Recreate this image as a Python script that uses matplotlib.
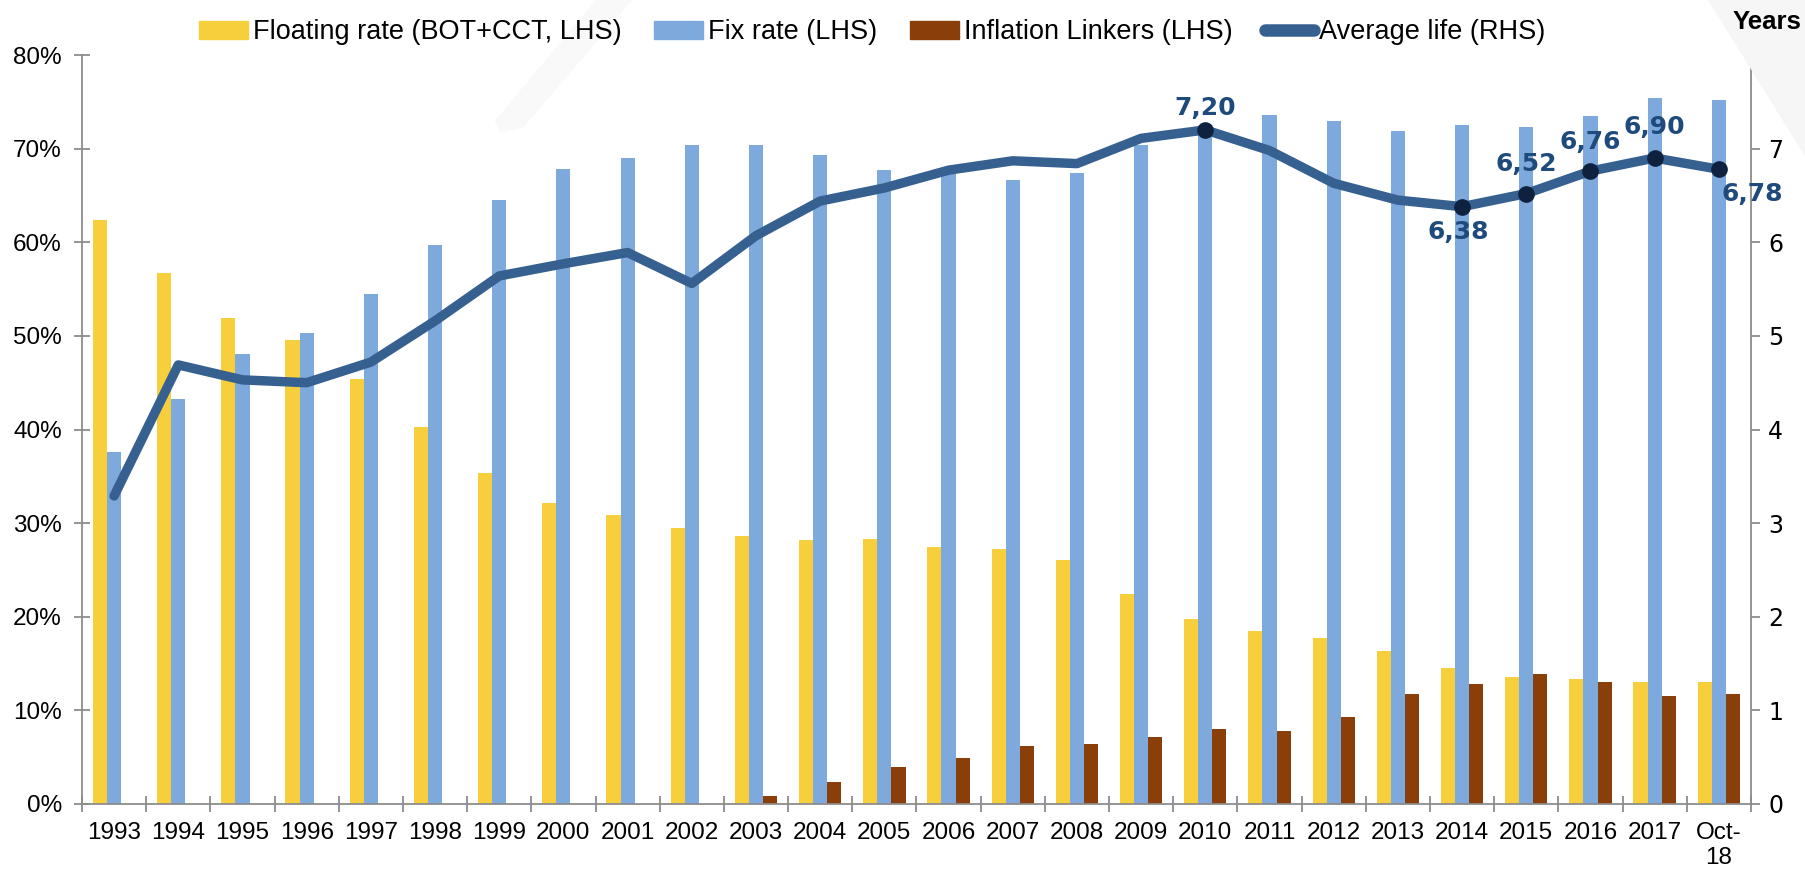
import numpy as np
import matplotlib
matplotlib.use('Agg')
import matplotlib.pyplot as plt
from matplotlib import font_manager as fm
from matplotlib.patches import Polygon
from matplotlib.lines import Line2D

# data
years = ['1993', '1994', '1995', '1996', '1997', '1998', '1999', '2000', '2001', '2002',
         '2003', '2004', '2005', '2006', '2007', '2008', '2009', '2010', '2011', '2012',
         '2013', '2014', '2015', '2016', '2017', 'Oct-\n18']
floating = [62.4, 56.7, 51.9, 49.6, 45.4, 40.3, 35.4, 32.2, 30.9, 29.5,
            28.6, 28.2, 28.3, 27.4, 27.2, 26.1, 22.4, 19.8, 18.5, 17.7,
            16.3, 14.5, 13.6, 13.4, 13.0, 13.0]
fixed = [37.6, 43.3, 48.1, 50.3, 54.5, 59.7, 64.5, 67.8, 69.0, 70.4,
         70.4, 69.3, 67.7, 67.5, 66.6, 67.4, 70.4, 72.2, 73.6, 73.0,
         71.9, 72.5, 72.3, 73.5, 75.4, 75.2]
linkers = [0, 0, 0, 0, 0, 0, 0, 0, 0, 0,
           0.9, 2.4, 4.0, 4.9, 6.2, 6.4, 7.2, 8.0, 7.8, 9.3,
           11.8, 12.8, 13.9, 13.0, 11.5, 11.7]
avg_life = [3.29, 4.69, 4.53, 4.50, 4.72, 5.16, 5.64, 5.77, 5.89, 5.56,
            6.07, 6.44, 6.58, 6.77, 6.87, 6.84, 7.11, 7.20, 6.98, 6.63,
            6.45, 6.38, 6.52, 6.76, 6.90, 6.78]
# points with a data label
label_idx = [17, 21, 22, 23, 24, 25]

# fonts: narrow sans for the Calibri-looking text if there is one
names = {f.name for f in fm.fontManager.ttflist}
narrow = 'Liberation Sans Narrow' if 'Liberation Sans Narrow' in names else 'Liberation Sans'
plt.rcParams['font.family'] = [narrow, 'DejaVu Sans']

c_float = '#F7CF3C'
c_fix = '#7EA9DD'
c_link = '#8A3E09'
c_line = '#36608F'
c_dot = '#0E2240'
c_lab = '#1F4A7C'
c_axis = '#8C8C8C'

fig = plt.figure(figsize=(18.06, 8.76), dpi=100)

# faint watermark strokes in the background
fig.patches.append(Polygon([[0.330, 1.0], [0.350, 1.0], [0.290, 0.855], [0.277, 0.848], [0.274, 0.862]],
                           closed=True, transform=fig.transFigure, facecolor='#f9f9f9',
                           edgecolor='none', zorder=0))
fig.patches.append(Polygon([[0.946, 1.0], [1.0, 1.0], [1.0, 0.82]],
                           closed=True, transform=fig.transFigure, facecolor='#f6f6f6',
                           edgecolor='none', zorder=0))

ax = fig.add_axes([0.0454, 0.0822, 0.9241, 0.855])
ax.set_facecolor('none')
x = np.arange(len(years))
w = 0.22

ax.bar(x - w, floating, w, color=c_float, zorder=2)
ax.bar(x, fixed, w, color=c_fix, zorder=2)
ax.bar(x + w, linkers, w, color=c_link, zorder=2)

ax.set_xlim(-0.5, len(years) - 0.5)
ax.set_ylim(0, 80)
ax.set_yticks(np.arange(0, 81, 10))
ax.set_yticklabels([f'{v}%' for v in range(0, 81, 10)])
ax.set_xticks(x)
ax.set_xticklabels(years, fontsize=17.5, linespacing=1.2)
ax.set_xticks(np.arange(-0.5, len(years)), minor=True)
ax.tick_params(axis='x', which='major', length=0, pad=13)
ax.tick_params(axis='x', which='minor', length=11, width=1.3, color=c_axis, direction='inout')
ax.tick_params(axis='y', labelsize=17.5, length=11, width=1.3, color=c_axis, direction='inout', pad=9)

for s in ['top', 'right']:
    ax.spines[s].set_visible(False)
for s in ['left', 'bottom']:
    ax.spines[s].set_color(c_axis)
    ax.spines[s].set_linewidth(1.3)

# right axis: average life
ax2 = ax.twinx()
ax2.set_ylim(0, 8)
ax2.set_yticks(range(0, 9))
ax2.tick_params(axis='y', length=6.5, width=1.3, color=c_axis, direction='out', pad=6)
for t in ax2.get_yticklabels():
    t.set_fontfamily('DejaVu Sans')
    t.set_fontsize(17)
for s in ['top', 'left', 'bottom']:
    ax2.spines[s].set_visible(False)
ax2.spines['right'].set_color(c_axis)
ax2.spines['right'].set_linewidth(1.3)

ax2.plot(x, avg_life, color=c_line, lw=6.8, solid_joinstyle='round', solid_capstyle='round', zorder=3)
lx = [x[i] for i in label_idx]
ly = [avg_life[i] for i in label_idx]
ax2.plot(lx, ly, 'o', color=c_dot, ms=11, zorder=4)

# data label offsets (points)
offsets = {17: (0, 16), 21: (-3, -18), 22: (0, 21), 23: (0, 21), 24: (0, 22), 25: (24, -18)}
for i in label_idx:
    dx, dy = offsets[i]
    ax2.annotate(f'{avg_life[i]:.2f}'.replace('.', ','), (x[i], avg_life[i]),
                 xytext=(dx, dy), textcoords='offset points', ha='center', va='center',
                 fontsize=18, fontweight='bold', color=c_lab, family='DejaVu Sans', zorder=5)

fig.text(0.9785, 0.975, 'Years', ha='center', va='center', fontsize=18.5, fontweight='bold')

# legend
handles = [plt.Rectangle((0, 0), 1, 1, color=c_float),
           plt.Rectangle((0, 0), 1, 1, color=c_fix),
           plt.Rectangle((0, 0), 1, 1, color=c_link),
           Line2D([0], [0], color=c_line, lw=9, solid_capstyle='round')]
labels = ['Floating rate (BOT+CCT, LHS)', 'Fix rate (LHS)', 'Inflation Linkers (LHS)', 'Average life (RHS)']
fig.legend(handles, labels, loc='center', bbox_to_anchor=(0.483, 0.963), ncol=4, frameon=False,
           fontsize=19.5, handlelength=1.8, handleheight=0.65, handletextpad=0.2, columnspacing=1.2)

fig.savefig('out.png', dpi=100)
